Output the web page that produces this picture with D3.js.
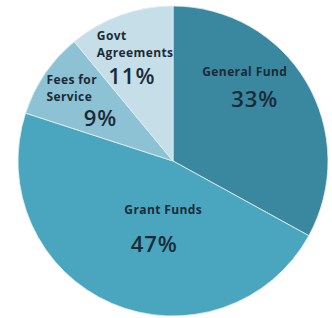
<!DOCTYPE html>
<html>
<head>
<meta charset="utf-8">
<script src="https://cdn.jsdelivr.net/npm/d3@7"></script>
<style>
  html, body { margin: 0; padding: 0; background: #fff; }
  svg { display: block; }
  text { font-family: "Open Sans", sans-serif; fill: #1b2a38; }
</style>
</head>
<body>
<script>
// data
var categories = ["General Fund", "Grant Funds", "Fees for Service", "Govt Agreements"];
var values = [33, 47, 9, 11];
var nameLines = [["General Fund"], ["Grant Funds"], ["Fees for", "Service"], ["Govt", "Agreements"]];
var colors = ["#3a88a0", "#4aa6bf", "#8cc2d3", "#c6dee7"];

// label placement, offsets from each slice's centroid
var labelLayout = [
    { name: [-10, -41], anchor: "middle", pct: [0, -15] },
    { name: [28, -39], anchor: "middle", pct: [19, -5] },
    { name: [-48, -28], anchor: "start", pct: [6, 9] },
    { name: [-44, -36], anchor: "start", pct: [-9, 3] }
];

var width = 332, height = 318;
var cx = 173, cy = 161, radius = 155;

var svg = d3.select("body").append("svg")
    .attr("width", width)
    .attr("height", height);

var data = categories.map(function(c, i) {
    return { name: c, value: values[i], lines: nameLines[i], i: i };
});

var pie = d3.pie()
    .sort(null)
    .value(function(d) { return d.value; });

var arc = d3.arc().innerRadius(0).outerRadius(radius);
var labelArc = d3.arc().innerRadius(95).outerRadius(95);

var g = svg.append("g")
    .attr("transform", "translate(" + cx + "," + cy + ")");

var arcs = pie(data);

g.selectAll("path")
    .data(arcs)
    .enter().append("path")
    .attr("d", arc)
    .attr("fill", function(d) { return colors[d.data.i]; })
    .attr("stroke", "#e4f0f4")
    .attr("stroke-width", 0.8);

var labels = g.selectAll("g.label")
    .data(arcs)
    .enter().append("g")
    .attr("class", "label");

labels.each(function(d) {
    var c = labelArc.centroid(d);
    var lay = labelLayout[d.data.i];
    var sel = d3.select(this);
    d.data.lines.forEach(function(line, k) {
        sel.append("text")
            .attr("x", c[0] + lay.name[0])
            .attr("y", c[1] + lay.name[1] + k * 17)
            .attr("text-anchor", lay.anchor)
            .attr("dominant-baseline", "central")
            .attr("font-size", 12)
            .attr("font-weight", "bold")
            .attr("letter-spacing", 0.4)
            .text(line);
    });
    sel.append("text")
        .attr("x", c[0] + lay.pct[0])
        .attr("y", c[1] + lay.pct[1])
        .attr("text-anchor", "middle")
        .attr("dominant-baseline", "central")
        .attr("font-size", 22)
        .attr("font-weight", 600)
        .attr("letter-spacing", 1)
        .text(d.data.value + "%");
});
</script>
</body>
</html>
